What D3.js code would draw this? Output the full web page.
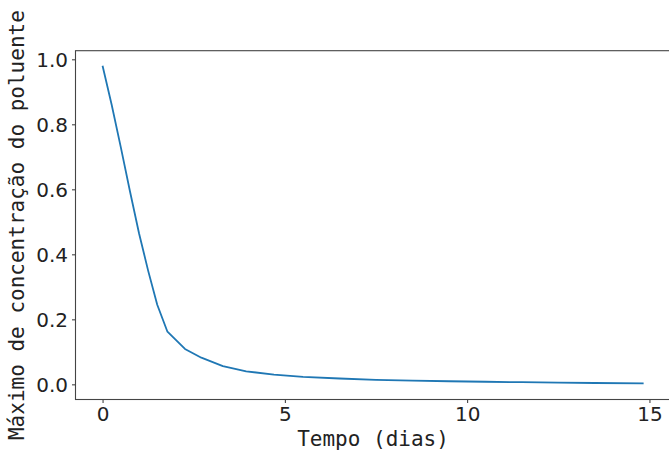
<!DOCTYPE html>
<html>
<head>
<meta charset="utf-8">
<script src="https://cdn.jsdelivr.net/npm/d3@7"></script>
<style>
  body { margin: 0; background: #fff; }
  text { fill: #222; }
</style>
</head>
<body>
<div id="chart"></div>
<script>
// tempo (dias) e maximo de concentracao
var tempo = [0, 0.25, 0.5, 0.75, 1.0, 1.25, 1.5, 1.78, 2.26, 2.71, 3.3, 3.94,
             4.7, 5.5, 6.5, 7.5, 8.5, 9.5, 10.5, 11.5, 12.5, 13.5, 14.84];
var concentracao = [0.98, 0.86, 0.73, 0.595, 0.465, 0.35, 0.245, 0.162, 0.109, 0.082, 0.056, 0.040,
                    0.030, 0.023, 0.018, 0.014, 0.0115, 0.0095, 0.008, 0.0066, 0.0053, 0.0042, 0.003];
var xTicks = [0, 5, 10, 15];
var yTicks = [0.0, 0.2, 0.4, 0.6, 0.8, 1.0];

var W = 669, H = 452;
var mLeft = 75.5, mRight = 670.6, mTop = 50.7, mBottom = 399.5;

var svg = d3.select("#chart").append("svg").attr("width", W).attr("height", H);

var x = d3.scaleLinear().domain([-0.742, 15.58]).range([mLeft, mRight]);
var y = d3.scaleLinear().domain([-0.0466, 1.0265]).range([mBottom, mTop]);

// linha
var line = d3.line()
  .x(function(d, i){ return x(tempo[i]); })
  .y(function(d){ return y(d); });

svg.append("path")
  .datum(concentracao)
  .attr("d", line)
  .attr("fill", "none")
  .attr("stroke", "#1f77b4")
  .attr("stroke-width", 1.8)
  .attr("stroke-linejoin", "round");

// eixos
var xAxis = d3.axisBottom(x).tickValues(xTicks).tickFormat(d3.format("d")).tickSize(3.5).tickPadding(4);
var yAxis = d3.axisLeft(y).tickValues(yTicks).tickFormat(d3.format(".1f")).tickSize(3.5).tickPadding(4);

var gx = svg.append("g").attr("transform", "translate(0," + mBottom + ")").call(xAxis);
var gy = svg.append("g").attr("transform", "translate(" + mLeft + ",0)").call(yAxis);

[gx, gy].forEach(function(g){
  g.select(".domain").remove();
  g.selectAll(".tick line").attr("stroke", "#333").attr("stroke-width", 1);
  g.selectAll(".tick text")
    .attr("font-family", "DejaVu Sans")
    .attr("font-size", 20)
    .attr("fill", "#222");
});
gy.selectAll(".tick text").attr("dy", "0.36em");

// moldura
svg.append("rect")
  .attr("x", mLeft).attr("y", mTop)
  .attr("width", mRight - mLeft).attr("height", mBottom - mTop)
  .attr("fill", "none")
  .attr("stroke", "#444")
  .attr("stroke-width", 1.1);

// rotulos
svg.append("text")
  .attr("x", (mLeft + mRight) / 2)
  .attr("y", 446)
  .attr("text-anchor", "middle")
  .attr("font-family", "DejaVu Sans Mono")
  .attr("font-size", 21)
  .text("Tempo (dias)");

svg.append("text")
  .attr("transform", "translate(24," + ((mTop + mBottom) / 2) + ") rotate(-90)")
  .attr("text-anchor", "middle")
  .attr("font-family", "DejaVu Sans Mono")
  .attr("font-size", 21)
  .text("Máximo de concentração do poluente");
</script>
</body>
</html>
